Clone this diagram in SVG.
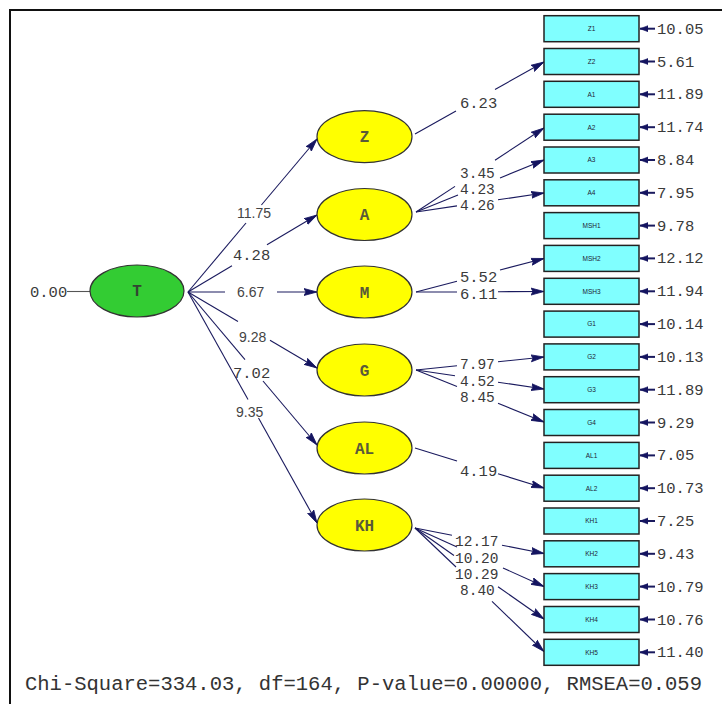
<svg xmlns="http://www.w3.org/2000/svg" width="722" height="704" viewBox="0 0 722 704">
<style>
.bg{fill:#fff}
.frame{stroke:#111;stroke-width:2;fill:none}
.lv{fill:#ffff00;stroke:#333;stroke-width:1.2}
.lvg{fill:#33cc33;stroke:#333;stroke-width:1.2}
.lvt{font-family:"Liberation Mono",monospace;font-weight:bold;font-size:16px;fill:#5a5a3a;text-anchor:middle}
.box{fill:#80ffff;stroke:#222;stroke-width:1.5}
.bt{font-family:"Liberation Sans",Arial,sans-serif;font-size:6.5px;fill:#223;text-anchor:middle}
.num{font-family:"Liberation Mono",monospace;font-size:15.5px;fill:#3a3a3a}
.st{font-size:14.5px}
.sn{font-family:"Liberation Sans",Arial,sans-serif;font-size:14px;fill:#444}
.ln{stroke:#1a1a5e;stroke-width:1.1;fill:none}
.arr{stroke:#1a1a5e;stroke-width:1.1;fill:none;marker-end:url(#ah)}
.err{stroke:#1a1a5e;stroke-width:2;fill:none;marker-end:url(#eh)}
.foot{font-family:"Liberation Mono",monospace;font-size:20.5px;fill:#333}
</style>
<defs>
<marker id="ah" markerUnits="userSpaceOnUse" markerWidth="14" markerHeight="9" refX="13" refY="4.5" orient="auto">
<path d="M0,1 L13,4.5 L0,8 L2,4.5 z" fill="#141460" stroke="#141460" stroke-width="0.8"/>
</marker>
<marker id="eh" markerUnits="userSpaceOnUse" markerWidth="9" markerHeight="8" refX="8" refY="4" orient="auto">
<path d="M0,1 L8,4 L0,7 z" fill="#141460" stroke="#141460" stroke-width="0.6"/>
</marker>
</defs>
<rect class="bg" x="0" y="0" width="722" height="704"/>
<path class="frame" d="M10,704 V10 H722"/>

<g id="connectors">
<line class="ln" x1="188" y1="292" x2="246" y2="223"/><line class="arr" x1="261.4" y1="205" x2="317" y2="139"/>
<line class="ln" x1="188" y1="292" x2="232" y2="265.7"/><line class="arr" x1="267" y1="244.8" x2="317" y2="215"/>
<line class="ln" x1="188" y1="292" x2="225" y2="292"/><line class="arr" x1="277" y1="292" x2="317" y2="292"/>
<line class="ln" x1="188" y1="292" x2="238" y2="321.5"/><line class="arr" x1="270" y1="340.3" x2="317" y2="368"/>
<line class="ln" x1="188" y1="292" x2="245" y2="359.6"/><line class="arr" x1="263" y1="381" x2="317" y2="445"/>
<line class="ln" x1="188" y1="292" x2="248" y2="399.4"/><line class="arr" x1="258.5" y1="418" x2="317" y2="523"/>
<line class="ln" x1="67" y1="291.5" x2="90" y2="291.5" style="stroke:#555"/>
<line class="ln" x1="415" y1="134" x2="456" y2="111.1"/><line class="arr" x1="495" y1="89.4" x2="544" y2="62"/>
<line class="ln" x1="416" y1="212" x2="455" y2="186.4"/><line class="arr" x1="495" y1="160.2" x2="544" y2="128"/>
<line class="ln" x1="416" y1="212" x2="458" y2="194.9"/><line class="arr" x1="500" y1="177.9" x2="544" y2="160"/>
<line class="ln" x1="416" y1="212" x2="457" y2="205.9"/><line class="arr" x1="498" y1="199.8" x2="544" y2="193"/>
<line class="ln" x1="416" y1="292" x2="457" y2="281.3"/><line class="arr" x1="500" y1="270" x2="544" y2="258.5"/>
<line class="ln" x1="416" y1="292" x2="457" y2="292"/><line class="arr" x1="498" y1="291.7" x2="544" y2="291.5"/>
<line class="ln" x1="416" y1="370" x2="457" y2="365.8"/><line class="arr" x1="498" y1="361.7" x2="544" y2="357"/>
<line class="ln" x1="416" y1="370" x2="455" y2="375.8"/><line class="arr" x1="498" y1="382.2" x2="544" y2="389"/>
<line class="ln" x1="416" y1="370" x2="457" y2="386.6"/><line class="arr" x1="498" y1="403.3" x2="544" y2="422"/>
<line class="ln" x1="415" y1="448" x2="457" y2="461"/><line class="arr" x1="498" y1="473.7" x2="544" y2="488"/>
<line class="ln" x1="415" y1="528" x2="452" y2="535.3"/><line class="arr" x1="502" y1="545.2" x2="544" y2="553.5"/>
<line class="ln" x1="415" y1="528" x2="457" y2="547"/><line class="arr" x1="503" y1="568" x2="544" y2="586.5"/>
<line class="ln" x1="415" y1="528" x2="454" y2="555.5"/><line class="arr" x1="498" y1="586.7" x2="544" y2="619"/>
<line class="ln" x1="415" y1="528" x2="456" y2="567"/><line class="arr" x1="492" y1="601.4" x2="544" y2="651.5"/>
<line class="err" x1="655" y1="28.7" x2="640" y2="28.7"/>
<line class="err" x1="655" y1="61.5" x2="640" y2="61.5"/>
<line class="err" x1="655" y1="94.3" x2="640" y2="94.3"/>
<line class="err" x1="655" y1="127.2" x2="640" y2="127.2"/>
<line class="err" x1="655" y1="160" x2="640" y2="160"/>
<line class="err" x1="655" y1="192.8" x2="640" y2="192.8"/>
<line class="err" x1="655" y1="225.6" x2="640" y2="225.6"/>
<line class="err" x1="655" y1="258.4" x2="640" y2="258.4"/>
<line class="err" x1="655" y1="291.3" x2="640" y2="291.3"/>
<line class="err" x1="655" y1="324.1" x2="640" y2="324.1"/>
<line class="err" x1="655" y1="356.9" x2="640" y2="356.9"/>
<line class="err" x1="655" y1="389.7" x2="640" y2="389.7"/>
<line class="err" x1="655" y1="422.5" x2="640" y2="422.5"/>
<line class="err" x1="655" y1="455.4" x2="640" y2="455.4"/>
<line class="err" x1="655" y1="488.2" x2="640" y2="488.2"/>
<line class="err" x1="655" y1="521" x2="640" y2="521"/>
<line class="err" x1="655" y1="553.8" x2="640" y2="553.8"/>
<line class="err" x1="655" y1="586.6" x2="640" y2="586.6"/>
<line class="err" x1="655" y1="619.5" x2="640" y2="619.5"/>
<line class="err" x1="655" y1="652.3" x2="640" y2="652.3"/>
<text class="sn" x="237" y="218">11.75</text>
<text class="num" x="233" y="260">4.28</text>
<text class="sn" x="237" y="297">6.67</text>
<text class="sn" x="239" y="342">9.28</text>
<text class="num" x="233" y="378">7.02</text>
<text class="sn" x="236" y="417">9.35</text>
<text class="num" x="460" y="108">6.23</text>
<text class="num st" x="460" y="178">3.45</text>
<text class="num st" x="460" y="194">4.23</text>
<text class="num st" x="460" y="209.5">4.26</text>
<text class="num" x="460" y="282">5.52</text>
<text class="num" x="460" y="299">6.11</text>
<text class="num st" x="460" y="369">7.97</text>
<text class="num st" x="460" y="386">4.52</text>
<text class="num st" x="460" y="402">8.45</text>
<text class="num" x="460" y="475.5">4.19</text>
<text class="num st" x="455" y="546">12.17</text>
<text class="num st" x="455" y="562.5">10.20</text>
<text class="num st" x="455" y="578.5">10.29</text>
<text class="num st" x="460" y="595">8.40</text>
</g>

<g id="T"><ellipse class="lvg" cx="137" cy="291" rx="47" ry="26"/><text class="lvt" x="137" y="296" style="fill:#334433">T</text><text class="num" x="30" y="297">0.00</text></g>
<g id="Z"><ellipse class="lv" cx="364.5" cy="136.7" rx="47.5" ry="26"/><text class="lvt" x="364.5" y="142">Z</text></g>
<g id="A"><ellipse class="lv" cx="364.5" cy="214.5" rx="47.5" ry="26"/><text class="lvt" x="364.5" y="220">A</text></g>
<g id="M"><ellipse class="lv" cx="364.5" cy="292" rx="47.5" ry="26"/><text class="lvt" x="364.5" y="297.5">M</text></g>
<g id="G"><ellipse class="lv" cx="364.5" cy="370" rx="47.5" ry="26"/><text class="lvt" x="364.5" y="375.5">G</text></g>
<g id="AL"><ellipse class="lv" cx="364.5" cy="448" rx="47.5" ry="26"/><text class="lvt" x="364.5" y="453.5">AL</text></g>
<g id="KH"><ellipse class="lv" cx="364.5" cy="525" rx="47.5" ry="26"/><text class="lvt" x="364.5" y="530.5">KH</text></g>

<g id="Z1"><rect class="box" x="544" y="15.7" width="95" height="26"/><text class="bt" x="591.5" y="31">Z1</text><text class="num" x="657" y="33.7">10.05</text></g>
<g id="Z2"><rect class="box" x="544" y="48.5" width="95" height="26"/><text class="bt" x="591.5" y="63.8">Z2</text><text class="num" x="657" y="66.5">5.61</text></g>
<g id="A1"><rect class="box" x="544" y="81.3" width="95" height="26"/><text class="bt" x="591.5" y="96.6">A1</text><text class="num" x="657" y="99.3">11.89</text></g>
<g id="A2"><rect class="box" x="544" y="114.2" width="95" height="26"/><text class="bt" x="591.5" y="129.5">A2</text><text class="num" x="657" y="132.2">11.74</text></g>
<g id="A3"><rect class="box" x="544" y="147" width="95" height="26"/><text class="bt" x="591.5" y="162.3">A3</text><text class="num" x="657" y="165">8.84</text></g>
<g id="A4"><rect class="box" x="544" y="179.8" width="95" height="26"/><text class="bt" x="591.5" y="195.1">A4</text><text class="num" x="657" y="197.8">7.95</text></g>
<g id="MSH1"><rect class="box" x="544" y="212.6" width="95" height="26"/><text class="bt" x="591.5" y="227.9">MSH1</text><text class="num" x="657" y="230.6">9.78</text></g>
<g id="MSH2"><rect class="box" x="544" y="245.4" width="95" height="26"/><text class="bt" x="591.5" y="260.7">MSH2</text><text class="num" x="657" y="263.4">12.12</text></g>
<g id="MSH3"><rect class="box" x="544" y="278.3" width="95" height="26"/><text class="bt" x="591.5" y="293.6">MSH3</text><text class="num" x="657" y="296.3">11.94</text></g>
<g id="G1"><rect class="box" x="544" y="311.1" width="95" height="26"/><text class="bt" x="591.5" y="326.4">G1</text><text class="num" x="657" y="329.1">10.14</text></g>
<g id="G2"><rect class="box" x="544" y="343.9" width="95" height="26"/><text class="bt" x="591.5" y="359.2">G2</text><text class="num" x="657" y="361.9">10.13</text></g>
<g id="G3"><rect class="box" x="544" y="376.7" width="95" height="26"/><text class="bt" x="591.5" y="392">G3</text><text class="num" x="657" y="394.7">11.89</text></g>
<g id="G4"><rect class="box" x="544" y="409.5" width="95" height="26"/><text class="bt" x="591.5" y="424.8">G4</text><text class="num" x="657" y="427.5">9.29</text></g>
<g id="AL1"><rect class="box" x="544" y="442.4" width="95" height="26"/><text class="bt" x="591.5" y="457.7">AL1</text><text class="num" x="657" y="460.4">7.05</text></g>
<g id="AL2"><rect class="box" x="544" y="475.2" width="95" height="26"/><text class="bt" x="591.5" y="490.5">AL2</text><text class="num" x="657" y="493.2">10.73</text></g>
<g id="KH1"><rect class="box" x="544" y="508" width="95" height="26"/><text class="bt" x="591.5" y="523.3">KH1</text><text class="num" x="657" y="526">7.25</text></g>
<g id="KH2"><rect class="box" x="544" y="540.8" width="95" height="26"/><text class="bt" x="591.5" y="556.1">KH2</text><text class="num" x="657" y="558.8">9.43</text></g>
<g id="KH3"><rect class="box" x="544" y="573.6" width="95" height="26"/><text class="bt" x="591.5" y="588.9">KH3</text><text class="num" x="657" y="591.6">10.79</text></g>
<g id="KH4"><rect class="box" x="544" y="606.5" width="95" height="26"/><text class="bt" x="591.5" y="621.8">KH4</text><text class="num" x="657" y="624.5">10.76</text></g>
<g id="KH5"><rect class="box" x="544" y="639.3" width="95" height="26"/><text class="bt" x="591.5" y="654.6">KH5</text><text class="num" x="657" y="657.3">11.40</text></g>

<text class="foot" x="25" y="690" textLength="677" lengthAdjust="spacingAndGlyphs">Chi-Square=334.03, df=164, P-value=0.00000, RMSEA=0.059</text>
</svg>
